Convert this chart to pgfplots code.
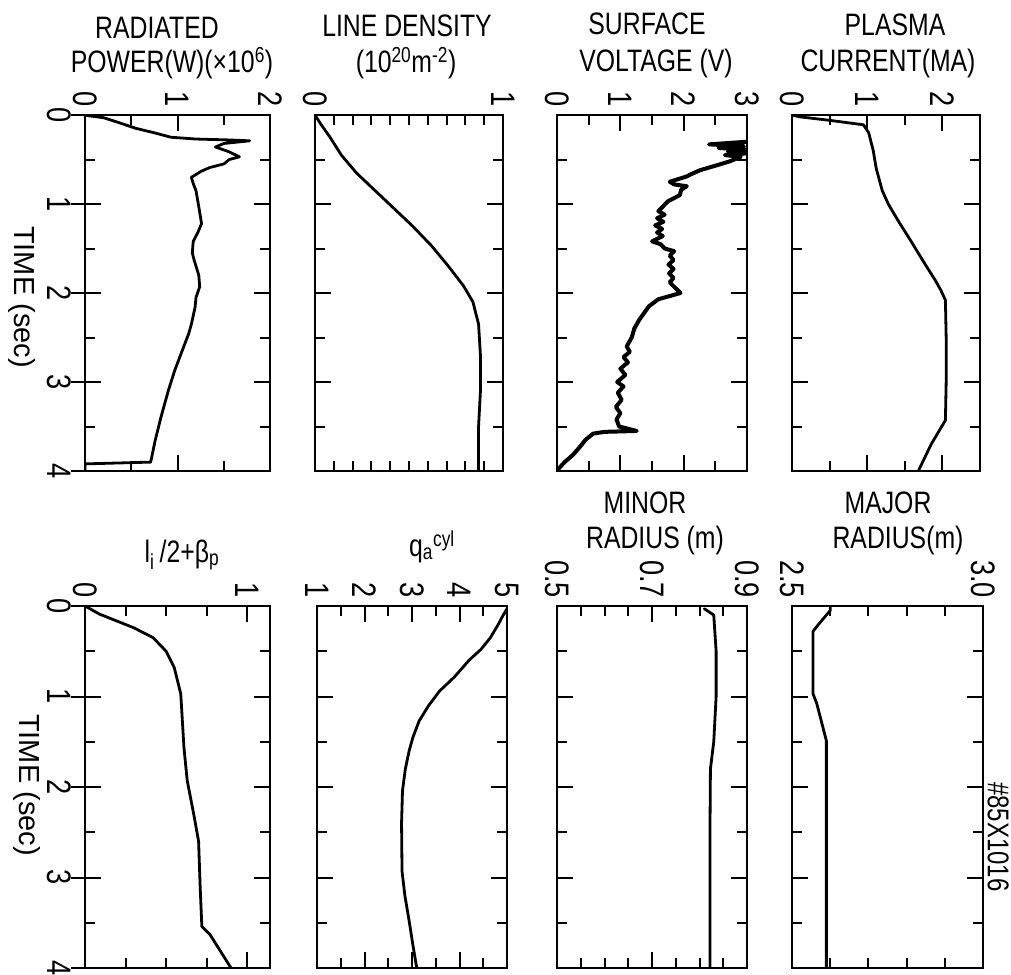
\documentclass[border=0pt]{standalone}
\usepackage{fontspec}
\setmainfont{Liberation Sans}[FakeStretch=0.8]
\newfontfamily\widefont{Liberation Sans}
\usepackage{pgfplots}
\usepackage{pgfplotstable}
\pgfplotsset{compat=1.18}

\newcommand\ttl{\fontsize{31}{36}\selectfont}
\newcommand\tks{\fontsize{34}{36}\selectfont}

% ---------- traces: value, time (s) ----------
\pgfplotstableread{
v t
0.00 0.00
0.05 0.01
0.20 0.03
0.35 0.08
0.55 0.15
0.75 0.20
0.93 0.25
1.20 0.27
1.55 0.28
1.78 0.29
1.50 0.32
1.41 0.36
1.55 0.41
1.67 0.47
1.56 0.50
1.50 0.55
1.35 0.59
1.26 0.63
1.15 0.70
1.17 0.77
1.20 0.85
1.23 1.03
1.26 1.22
1.22 1.32
1.17 1.42
1.16 1.55
1.18 1.63
1.23 1.80
1.24 1.93
1.20 2.05
1.19 2.16
1.15 2.35
1.12 2.46
1.05 2.65
0.97 2.87
0.90 3.10
0.82 3.40
0.76 3.65
0.71 3.90
0.00 3.92
0.00 4.00
}\radpower

\pgfplotstableread{
v t
0.00 0.00
0.03 0.10
0.08 0.25
0.14 0.45
0.22 0.65
0.32 0.85
0.42 1.05
0.52 1.25
0.62 1.47
0.71 1.70
0.79 1.92
0.84 2.10
0.87 2.35
0.88 2.70
0.88 3.10
0.87 3.50
0.87 4.00
}\density

\pgfplotstableread{
v t
3.00 0.30
2.40 0.33
2.95 0.35
2.55 0.37
3.00 0.39
2.70 0.41
3.00 0.43
2.65 0.45
2.90 0.47
2.73 0.52
2.50 0.57
2.26 0.62
2.10 0.67
2.05 0.69
1.78 0.75
1.85 0.78
2.05 0.80
1.96 0.84
1.94 0.90
1.75 0.97
1.67 1.03
1.60 1.08
1.70 1.12
1.58 1.16
1.68 1.20
1.55 1.24
1.66 1.28
1.58 1.32
1.67 1.36
1.50 1.42
1.63 1.45
1.70 1.50
1.85 1.53
1.78 1.58
1.84 1.63
1.76 1.68
1.84 1.73
1.77 1.78
1.84 1.83
1.78 1.88
1.85 1.93
1.95 2.00
1.60 2.07
1.45 2.15
1.38 2.22
1.30 2.30
1.22 2.40
1.18 2.50
1.10 2.60
1.15 2.66
1.05 2.72
1.12 2.78
1.00 2.85
1.08 2.92
0.95 3.00
1.05 3.05
0.96 3.12
1.02 3.20
0.93 3.28
1.00 3.35
0.94 3.42
0.98 3.50
1.26 3.55
0.75 3.56
0.57 3.58
0.45 3.65
0.36 3.73
0.25 3.82
0.12 3.90
0.03 3.97
0.00 4.00
}\voltage

\pgfplotstableread{
v t
0.00 0.00
0.10 0.02
0.50 0.06
0.95 0.11
1.02 0.20
1.05 0.30
1.08 0.40
1.12 0.60
1.20 0.85
1.28 1.00
1.42 1.20
1.57 1.40
1.75 1.65
1.90 1.85
1.98 1.97
2.04 2.08
2.05 2.50
2.05 3.00
2.04 3.43
1.85 3.70
1.68 4.00
}\current

\pgfplotstableread{
v t
0.00 0.00
0.09 0.09
0.30 0.24
0.42 0.35
0.50 0.50
0.55 0.68
0.59 0.97
0.61 1.57
0.63 1.93
0.67 2.30
0.70 2.60
0.71 3.12
0.72 3.54
0.77 3.63
0.90 4.00
}\inductance

\pgfplotstableread{
v t
5.00 0.03
4.90 0.12
4.82 0.20
4.65 0.35
4.45 0.48
4.20 0.60
3.90 0.78
3.58 0.94
3.35 1.10
3.15 1.27
3.02 1.45
2.94 1.60
2.86 1.80
2.80 2.04
2.78 2.40
2.79 2.93
2.85 3.20
2.94 3.48
3.02 3.75
3.10 4.00
}\safety

\pgfplotstableread{
v t
0.810 0.03
0.830 0.10
0.835 0.50
0.835 1.00
0.830 1.50
0.823 1.80
0.822 2.50
0.822 4.00
}\minor

\pgfplotstableread{
v t
2.600 0.01
2.600 0.05
2.570 0.20
2.555 0.28
2.555 0.97
2.565 1.08
2.590 1.49
2.590 4.00
}\major

\pgfplotsset{
  panel/.style={
    scale only axis, anchor=north west,
    y dir=reverse, ymin=0, ymax=4,
    ytick={0,1,2,3,4}, minor ytick={0.5,1.5,2.5,3.5}, yticklabels={},
    xticklabel pos=upper,
    tick align=inside,
    axis line style={line width=2.4pt},
    major tick length=16pt, minor tick length=10pt,
    every tick/.style={black, line width=2pt},
    tick label style={font=\tks, inner sep=0pt},
    xticklabel style={rotate=-90, anchor=east},
    xticklabel shift=8pt,
  },
  timeaxis/.style={
    yticklabels={0,1,2,3,4},
    yticklabel style={rotate=-90, anchor=north},
    yticklabel shift=14pt,
    % integer marks of the time scale also reach out past the frame
    extra y ticks={0,1,2,3,4}, extra y tick labels={},
    extra y tick style={tick align=outside, major tick length=14pt, ytick pos=left},
  },
  trace/.style={black, line width=2.8pt, line join=round, line cap=round},
}

\begin{document}
\begin{tikzpicture}
\path[use as bounding box] (0pt,0pt) rectangle (1011pt,-974pt);

% ---------------- upper row ----------------
\begin{axis}[panel, timeaxis, at={(85pt,-115pt)}, width=185pt, height=356pt,
  xmin=0, xmax=2, xtick={0,1,2}, xticklabels={0,1,2}, minor xtick={0.5,1.5}]
\addplot[trace] table[x=v, y=t] {\radpower};
\end{axis}

\begin{axis}[panel, at={(315pt,-115pt)}, width=188pt, height=356pt,
  xmin=0, xmax=1, xtick={0,1}, xticklabels={0,1},
  minor xtick={0.1,0.2,...,0.9}]
\addplot[trace] table[x=v, y=t] {\density};
\end{axis}

\begin{axis}[panel, at={(557pt,-115pt)}, width=190pt, height=356pt,
  xmin=0, xmax=3, xtick={0,1,2,3}, xticklabels={0,1,2,3},
  minor xtick={0.5,1.5,2.5}]
\addplot[trace, line width=4pt] table[x=v, y=t] {\voltage};
\end{axis}

\begin{axis}[panel, at={(792pt,-115pt)}, width=188pt, height=356pt,
  xmin=0, xmax=2.5, xtick={0,1,2}, xticklabels={0,1,2},
  minor xtick={0.5,1.5}]
\addplot[trace] table[x=v, y=t] {\current};
\end{axis}

% ---------------- lower row ----------------
\begin{axis}[panel, timeaxis, at={(85pt,-606pt)}, width=185pt, height=362pt,
  xmin=0, xmax=1.14, xtick={0,1}, xticklabels={0,1},
  minor xtick={0.25,0.5,0.75}]
\addplot[trace] table[x=v, y=t] {\inductance};
\end{axis}

\begin{axis}[panel, at={(317pt,-606pt)}, width=190pt, height=362pt,
  xmin=1, xmax=5, xtick={1,2,3,4,5}, xticklabels={1,2,3,4,5},
  minor xtick={1.5,2.5,3.5,4.5}]
\addplot[trace] table[x=v, y=t] {\safety};
\end{axis}

\begin{axis}[panel, at={(557pt,-606pt)}, width=190pt, height=362pt,
  xmin=0.5, xmax=0.9, xtick={0.5,0.7,0.9}, xticklabels={0.5,0.7,0.9},
  minor xtick={0.55,0.6,0.65,0.75,0.8,0.85}]
\addplot[trace] table[x=v, y=t] {\minor};
\end{axis}

\begin{axis}[panel, at={(792pt,-606pt)}, width=191pt, height=362pt,
  xmin=2.5, xmax=3.0, xtick={2.5,3.0}, xticklabels={2.5,3.0},
  minor xtick={2.6,2.7,2.8,2.9}]
\addplot[trace] table[x=v, y=t] {\major};
\end{axis}

% ---------------- headings ----------------
\begin{scope}[every node/.style={font=\ttl, inner sep=0pt, anchor=base}]
\node at (157pt,-38pt) {RADIATED};
\node at (172pt,-72pt) {POWER(W)(×10\textsuperscript{6})};
\node at (407pt,-37pt) {LINE DENSITY};
\node at (406pt,-72pt) {(10\textsuperscript{20}m\textsuperscript{-2})};
\node at (647pt,-35pt) {SURFACE};
\node at (656pt,-71pt) {VOLTAGE (V)};
\node at (895pt,-36pt) {PLASMA};
\node at (888pt,-71pt) {CURRENT(MA)};
\node at (182pt,-562pt) {l\textsubscript{i}\,/2+β\textsubscript{p}};
\node at (432pt,-556pt) {q\textsubscript{a}\textsuperscript{cyl}};
\node at (645pt,-513pt) {MINOR};
\node at (655pt,-548pt) {RADIUS (m)};
\node at (888pt,-513pt) {MAJOR};
\node at (898pt,-548pt) {RADIUS(m)};
\end{scope}

\node[font=\widefont\fontsize{29}{32}\selectfont, rotate=-90] at (22pt,-297pt) {TIME (sec)};
\node[font=\widefont\fontsize{29}{32}\selectfont, rotate=-90] at (27pt,-785pt) {TIME (sec)};
\node[font=\fontsize{30}{32}\selectfont, rotate=-90, anchor=north west, inner sep=0pt] at (1009pt,-782pt) {\#85X1016};
\end{tikzpicture}
\end{document}
